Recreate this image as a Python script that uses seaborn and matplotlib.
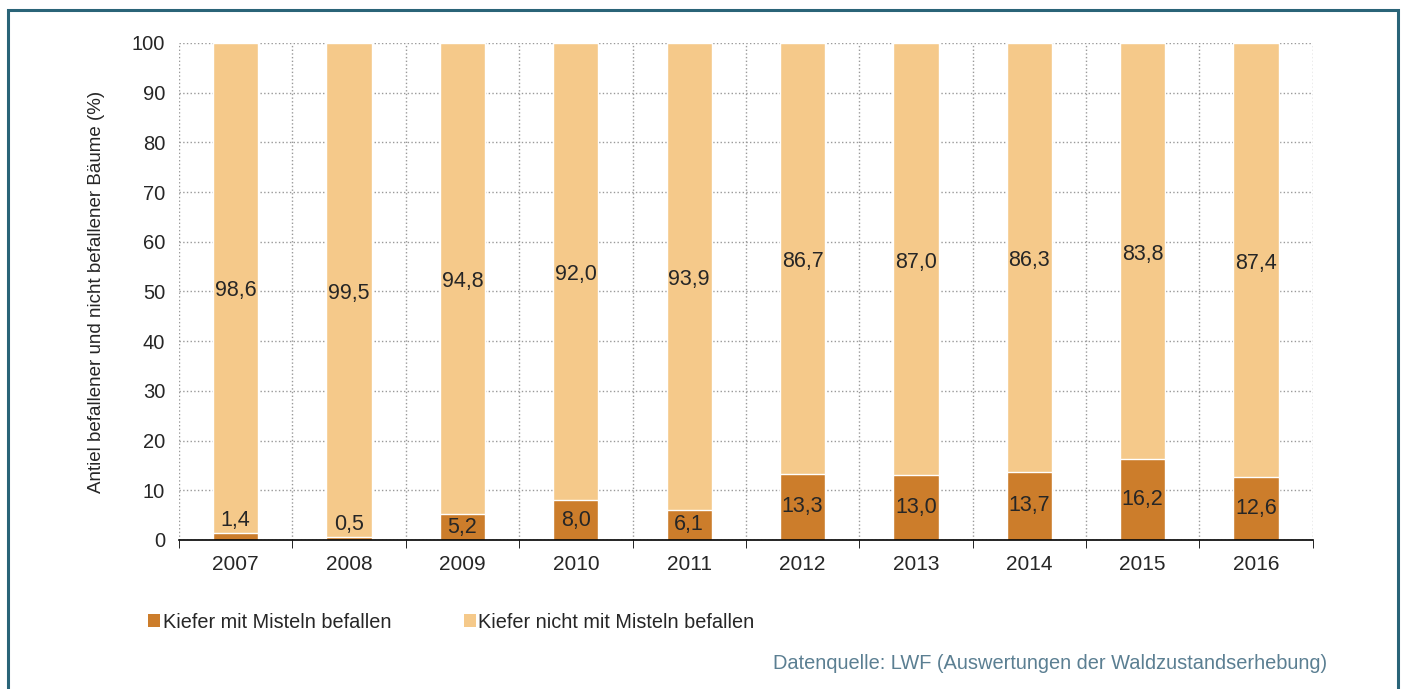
import numpy as np
import pandas as pd
import matplotlib
matplotlib.use("Agg")
import matplotlib.pyplot as plt
import seaborn as sns
from matplotlib.patches import Patch, Rectangle
from matplotlib.ticker import FixedLocator

# Daten
jahre = ['2007', '2008', '2009', '2010', '2011', '2012', '2013', '2014', '2015', '2016']
befallen = [1.4, 0.5, 5.2, 8.0, 6.1, 13.3, 13.0, 13.7, 16.2, 12.6]
nicht_befallen = [98.6, 99.5, 94.8, 92.0, 93.9, 86.7, 87.0, 86.3, 83.8, 87.4]

farbe_dunkel = '#CC7D2B'
farbe_hell = '#F5C98A'

df = pd.DataFrame({'Jahr': jahre, 'befallen': befallen, 'nicht': nicht_befallen})
df['gesamt'] = df['befallen'] + df['nicht']

sns.set_style('white')
plt.rcParams['font.family'] = ['Liberation Sans', 'DejaVu Sans']

fig = plt.figure(figsize=(14.04, 6.89), dpi=100)
ax = fig.add_axes([0.1275, 0.2163, 0.8075, 0.7213])

# gestapelte Balken: zuerst Gesamthöhe hell, dann befallener Anteil dunkel
sns.barplot(data=df, x='Jahr', y='gesamt', color=farbe_hell, width=0.4,
            saturation=1, ax=ax, zorder=3)
sns.barplot(data=df, x='Jahr', y='befallen', color=farbe_dunkel, width=0.4,
            saturation=1, ax=ax, zorder=4)

# Beschriftungen
for i, (b, n) in enumerate(zip(befallen, nicht_befallen)):
    lab_b = f"{b:.1f}".replace('.', ',')
    lab_n = f"{n:.1f}".replace('.', ',')
    if b < 3:
        ax.text(i, b + 0.5, lab_b, ha='center', va='bottom', fontsize=15.5, zorder=5)
    else:
        ax.text(i, b / 2, lab_b, ha='center', va='center', fontsize=15.5, zorder=5)
    ax.text(i, b + n / 2 - 0.6, lab_n, ha='center', va='center', fontsize=15.5, zorder=5)

ax.set_xlim(-0.5, len(jahre) - 0.5)
ax.set_ylim(0, 100)
ax.set_yticks(range(0, 101, 10))
ax.xaxis.set_minor_locator(FixedLocator(np.arange(-0.5, len(jahre), 1)))
ax.tick_params(axis='x', which='major', length=0, labelsize=15, pad=11)
ax.tick_params(axis='x', which='minor', length=6, direction='out', color='black', bottom=True)
ax.tick_params(axis='y', length=0, labelsize=14.5, pad=10)

ax.grid(axis='y', which='major', linestyle=':', color='#999999', linewidth=1, zorder=0)
ax.grid(axis='x', which='minor', linestyle=':', color='#999999', linewidth=1, zorder=0)
ax.grid(axis='x', which='major', visible=False)
ax.set_axisbelow(True)

for s in ['top', 'right', 'left']:
    ax.spines[s].set_visible(False)
ax.spines['bottom'].set_color('black')
ax.spines['bottom'].set_linewidth(1.2)
ax.spines['bottom'].set_zorder(6)

ax.set_xlabel('')
ax.set_ylabel('Antiel befallener und nicht befallener Bäume (%)', fontsize=13.5, labelpad=19)

# Legende
handles = [Patch(facecolor=farbe_dunkel, edgecolor='none'),
           Patch(facecolor=farbe_hell, edgecolor='none')]
fig.legend(handles, ['Kiefer mit Misteln befallen', 'Kiefer nicht mit Misteln befallen'],
           loc='center left', bbox_to_anchor=(0.093, 0.097), ncol=2, frameon=False,
           fontsize=14.3, handlelength=0.6, handleheight=0.6, handletextpad=0.12,
           columnspacing=3.65)

fig.text(0.945, 0.037, 'Datenquelle: LWF (Auswertungen der Waldzustandserhebung)',
         ha='right', va='center', fontsize=14.4, color='#5B7F92')

# Rahmen
fig.patches.append(Rectangle((8 / 1404, -0.05), 1390 / 1404, 1.05 - 10 / 689,
                             transform=fig.transFigure, fill=False,
                             edgecolor='#2A6478', linewidth=2.2))

fig.savefig('out.png', dpi=100)
